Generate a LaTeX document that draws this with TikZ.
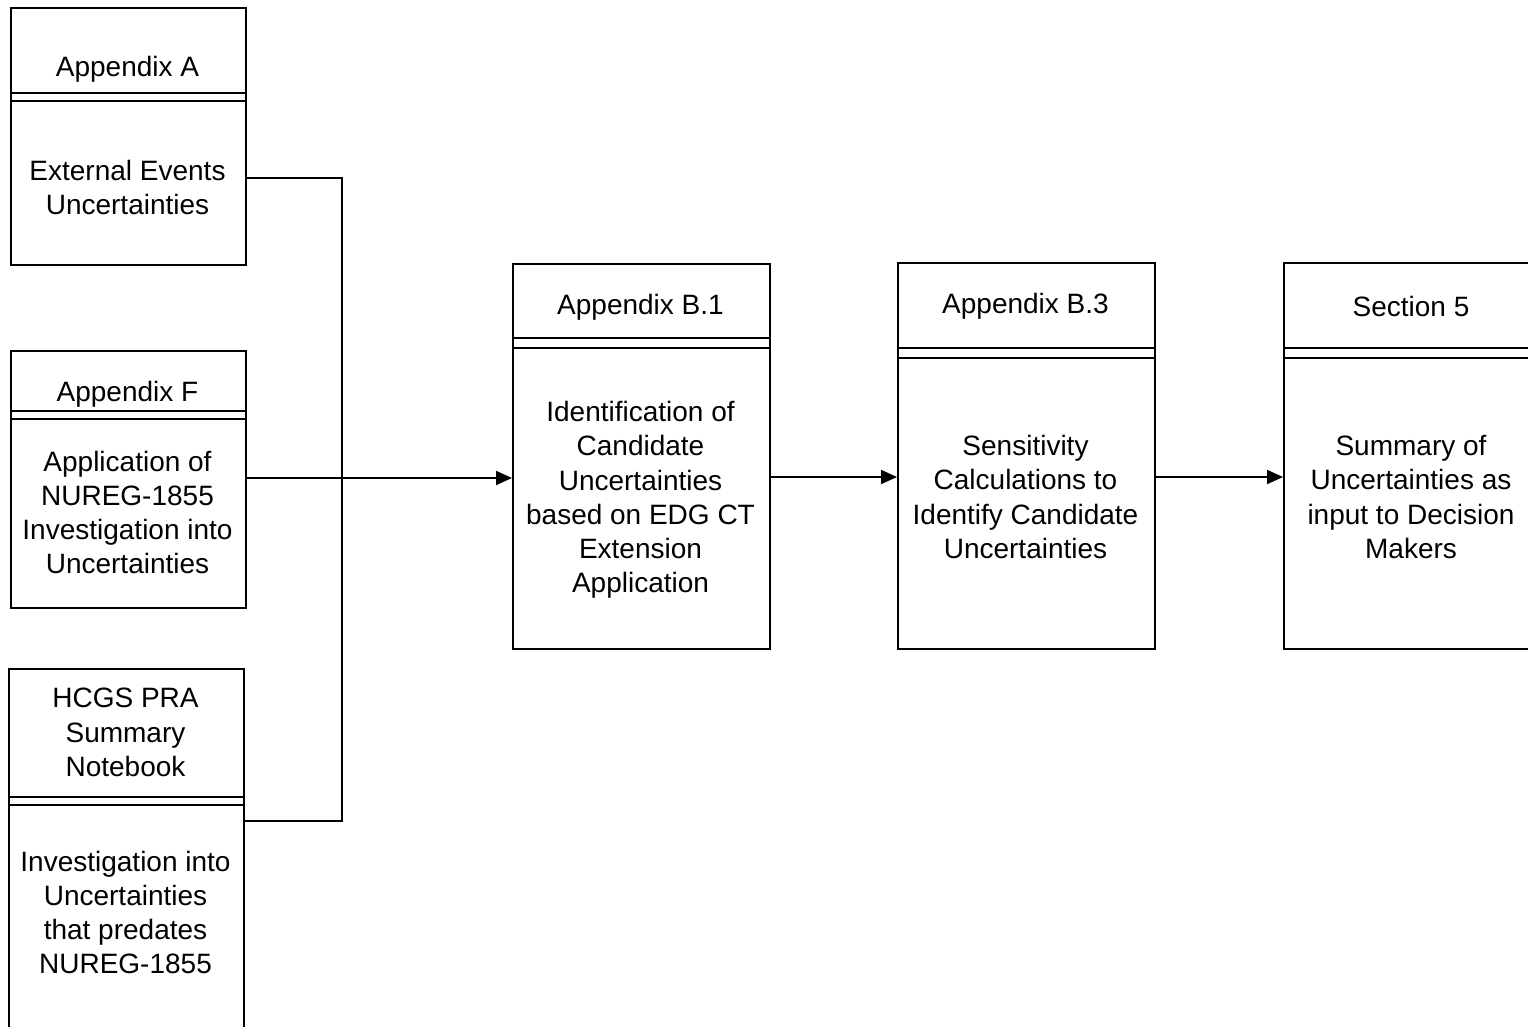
\documentclass[tikz,border=0pt]{standalone}
\usepackage{fontspec}
\setmainfont{Liberation Sans}
\usetikzlibrary{arrows.meta}
\begin{document}
\begin{tikzpicture}[x=1pt,y=-1pt,
  box/.style={draw, line width=1.8pt, rectangle, anchor=north west, inner sep=0pt},
  txt/.style={align=center, font=\fontsize{28}{34.3}\selectfont, inner sep=0pt},
  sep/.style={line width=1.6pt},
  conn/.style={line width=1.8pt},
  arr/.style={conn, -{Triangle[length=16pt,width=14pt]}}]
\path[use as bounding box] (0,0) rectangle (1528,1026);
\clip (0,0) rectangle (1528,1026);
\fill[white] (0,0) rectangle (1528,1026);

% boxes
\node[box, minimum width=235pt, minimum height=257pt] (A) at (10,7) {};
\node[box, minimum width=235pt, minimum height=257pt] (F) at (10,350) {};
\node[box, minimum width=235pt, minimum height=380pt] (H) at (8,668) {};
\node[box, minimum width=257pt, minimum height=385pt] (B1) at (512,263) {};
\node[box, minimum width=257pt, minimum height=386pt] (B3) at (897,262) {};
\node[box, minimum width=262pt, minimum height=386pt] (S5) at (1283,262) {};

% double separators
\foreach \b/\ya/\yb in {A/93/101, F/411/419, H/797/805, B1/338/348, B3/348/358, S5/348/358}{
  \draw[sep] (\b.west |- 0,\ya) -- (\b.east |- 0,\ya);
  \draw[sep] (\b.west |- 0,\yb) -- (\b.east |- 0,\yb);
}

% texts
\node[txt] (Ah) at (127.5,69) {Appendix A};
\node[txt] (Ab) at (127.5,187.5) {External Events\\Uncertainties};
\node[txt] (Fh) at (127.5,394) {Appendix F};
\node[txt] (Fb) at (127.5,512.5) {Application of\\NUREG-1855\\Investigation into\\Uncertainties};
\node[txt] (Hh) at (125.5,732.5) {HCGS PRA\\Summary\\Notebook};
\node[txt] (Hb) at (125.5,912.5) {Investigation into\\Uncertainties\\that predates\\NUREG-1855};
\node[txt] (B1h) at (640.5,307) {Appendix B.1};
\node[txt] (B1b) at (640.5,500) {Identification of\\Candidate\\Uncertainties\\based on EDG CT\\Extension\\Application};
\node[txt] (B3h) at (1025.5,306) {Appendix B.3};
\node[txt] (B3b) at (1025.5,497) {Sensitivity\\Calculations to\\Identify Candidate\\Uncertainties};
\node[txt] (S5h) at (1411,306) {Section 5};
\node[txt] (S5b) at (1411,497) {Summary of\\Uncertainties as\\input to Decision\\Makers};

% connectors
\coordinate (bus) at (342,478);
\draw[conn] (A.east |- 0,178) -| (bus);
\draw[conn] (H.east |- 0,821) -| (bus);
\draw[arr] (F.east |- bus) -- (B1.west |- bus);
\draw[arr] (B1.east |- 0,477) -- (B3.west |- 0,477);
\draw[arr] (B3.east |- 0,477) -- (S5.west |- 0,477);
\end{tikzpicture}
\end{document}
